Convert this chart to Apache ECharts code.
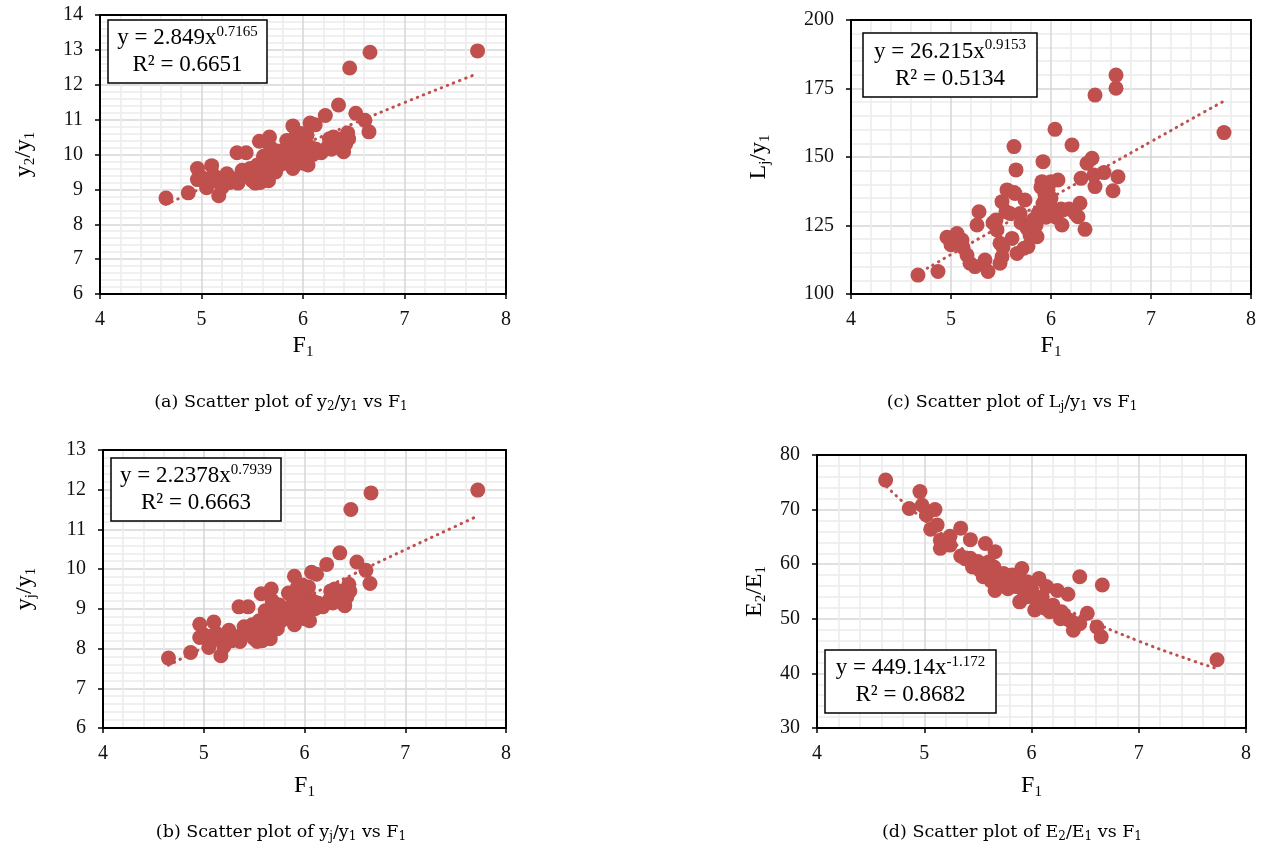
<!DOCTYPE html>
<html>
<head>
<meta charset="utf-8">
<script src="https://cdn.jsdelivr.net/npm/echarts@6/dist/echarts.min.js"></script>
<style>
html,body{margin:0;padding:0;background:#fff;}
#main{width:1272px;height:849px;}
</style>
</head>
<body>
<div id="main"></div>
<script>
// (a) y2/y1 vs F1
var pointsA = [
  [4.65,8.75],[4.87,8.90],[4.96,9.60],[4.96,9.28],[5.00,9.35],[5.05,9.05],[5.08,9.20],[5.10,9.68],
  [5.12,9.40],[5.15,9.25],[5.17,8.82],[5.20,9.05],[5.22,9.30],[5.25,9.45],[5.28,9.20],[5.32,9.30],
  [5.35,10.05],[5.36,9.18],[5.40,9.55],[5.44,10.05],[5.45,9.40],[5.48,9.60],[5.50,9.25],[5.52,9.50],
  [5.53,9.18],[5.55,9.70],[5.56,9.35],[5.57,10.38],[5.58,9.20],[5.60,9.55],[5.61,9.95],[5.63,9.80],
  [5.65,9.40],[5.66,9.25],[5.67,10.50],[5.68,10.20],[5.70,9.65],[5.72,9.90],[5.73,9.50],[5.75,10.10],
  [5.77,9.70],[5.80,9.80],[5.82,10.00],[5.84,10.40],[5.85,9.75],[5.87,9.90],[5.88,10.30],[5.90,10.82],
  [5.90,9.60],[5.92,10.15],[5.93,10.55],[5.95,10.40],[5.96,9.90],[5.97,10.20],[5.98,10.60],[6.00,9.75],
  [6.01,10.35],[6.03,10.05],[6.04,10.55],[6.05,9.70],[6.07,10.90],[6.08,10.20],[6.10,10.00],[6.12,10.85],
  [6.13,10.15],[6.18,10.05],[6.22,11.12],[6.24,10.20],[6.26,10.45],[6.28,10.15],[6.30,10.50],[6.33,10.35],
  [6.35,11.42],[6.38,10.45],[6.40,10.08],[6.42,10.30],[6.44,10.62],[6.45,10.45],[6.46,12.48],[6.52,11.18],
  [6.61,10.98],[6.65,10.65],[6.66,12.93],[7.72,12.97]
];
// (b) yj/y1 vs F1
var pointsB = [
  [4.65,7.76],[4.87,7.90],[4.96,8.61],[4.96,8.28],[5.00,8.35],[5.05,8.03],[5.08,8.20],[5.10,8.67],
  [5.12,8.40],[5.15,8.25],[5.17,7.82],[5.20,8.05],[5.22,8.30],[5.25,8.46],[5.28,8.20],[5.32,8.30],
  [5.35,9.05],[5.36,8.18],[5.40,8.55],[5.44,9.05],[5.45,8.40],[5.48,8.60],[5.50,8.25],[5.52,8.50],
  [5.53,8.18],[5.55,8.70],[5.56,8.35],[5.57,9.38],[5.58,8.20],[5.60,8.55],[5.61,8.95],[5.63,8.80],
  [5.65,8.40],[5.66,8.25],[5.67,9.50],[5.68,9.20],[5.70,8.65],[5.72,8.90],[5.73,8.50],[5.75,9.10],
  [5.77,8.70],[5.80,8.80],[5.82,9.00],[5.84,9.40],[5.85,8.75],[5.87,8.90],[5.88,9.30],[5.90,9.82],
  [5.90,8.60],[5.92,9.15],[5.93,9.55],[5.95,9.40],[5.96,8.90],[5.97,9.20],[5.98,9.60],[6.00,8.75],
  [6.01,9.35],[6.03,9.05],[6.04,9.55],[6.05,8.70],[6.07,9.92],[6.08,9.20],[6.10,9.00],[6.12,9.87],
  [6.13,9.15],[6.18,9.05],[6.22,10.12],[6.24,9.20],[6.26,9.45],[6.28,9.15],[6.30,9.50],[6.33,9.35],
  [6.35,10.41],[6.38,9.45],[6.40,9.08],[6.42,9.30],[6.44,9.62],[6.45,9.45],[6.46,11.50],[6.52,10.18],
  [6.61,9.97],[6.65,9.64],[6.66,11.92],[7.72,11.99]
];
// (c) Lj/y1 vs F1
var pointsC = [
  [4.67,106.9],[4.87,108.2],[4.96,120.7],[5.00,118.0],[5.02,119.1],[5.06,122.1],[5.11,119.7],[5.12,117.0],
  [5.16,114.2],[5.19,111.2],[5.24,110.0],[5.26,125.2],[5.28,130.0],[5.34,112.4],[5.37,108.2],[5.42,126.0],
  [5.45,127.0],[5.46,123.4],[5.49,118.5],[5.49,111.2],[5.51,113.6],[5.51,133.7],[5.52,117.0],[5.55,130.0],
  [5.56,138.0],[5.59,129.4],[5.61,120.3],[5.63,137.0],[5.63,153.8],[5.64,136.7],[5.65,145.3],[5.66,114.8],
  [5.69,129.4],[5.70,126.0],[5.73,116.7],[5.74,134.3],[5.76,124.0],[5.77,117.3],[5.79,121.5],[5.82,127.0],
  [5.85,125.0],[5.86,120.9],[5.87,129.4],[5.90,139.0],[5.91,141.0],[5.92,148.3],[5.92,133.0],[5.94,136.1],
  [5.95,128.0],[5.97,138.0],[5.99,132.5],[6.00,135.0],[6.00,141.0],[6.04,160.1],[6.04,129.4],[6.05,128.0],
  [6.07,141.6],[6.10,131.0],[6.11,125.2],[6.12,130.7],[6.18,131.0],[6.21,154.4],[6.24,129.4],[6.27,128.2],
  [6.29,133.1],[6.30,142.2],[6.34,123.6],[6.36,147.7],[6.41,149.5],[6.43,143.4],[6.44,139.2],[6.44,172.6],
  [6.53,144.3],[6.62,137.7],[6.65,175.1],[6.65,179.9],[6.67,142.8],[7.73,158.9]
];
// (d) E2/E1 vs F1
var pointsD = [
  [4.64,75.4],[4.86,70.2],[4.96,73.3],[4.98,70.8],[5.02,69.0],[5.06,66.4],[5.10,70.0],[5.12,67.2],
  [5.15,64.4],[5.15,62.9],[5.24,65.1],[5.24,63.5],[5.34,66.6],[5.34,61.5],[5.38,61.0],[5.43,64.5],
  [5.43,61.1],[5.45,59.5],[5.48,60.1],[5.50,60.5],[5.52,58.9],[5.55,57.7],[5.57,63.8],[5.58,59.5],
  [5.60,60.4],[5.62,57.0],[5.65,59.5],[5.66,62.3],[5.66,55.2],[5.70,57.5],[5.74,58.3],[5.75,56.0],
  [5.78,55.5],[5.80,56.8],[5.80,57.0],[5.82,58.0],[5.85,57.5],[5.86,55.9],[5.88,57.8],[5.89,53.1],
  [5.90,56.0],[5.91,59.2],[5.93,55.0],[5.95,54.0],[5.96,56.8],[5.98,56.0],[6.00,55.5],[6.02,54.3],
  [6.03,51.6],[6.05,53.0],[6.07,57.4],[6.08,52.8],[6.10,54.0],[6.12,52.0],[6.14,55.9],[6.17,51.3],
  [6.20,52.5],[6.24,55.2],[6.27,50.0],[6.28,51.3],[6.30,50.8],[6.34,54.5],[6.35,49.8],[6.38,49.4],
  [6.39,47.9],[6.45,49.1],[6.45,57.7],[6.52,51.0],[6.61,48.5],[6.65,46.7],[6.66,56.2],[7.73,42.5]
];

// power trend lines, sampled at trendX (values of the fitted curves shown on the chart)
var trendX = [4.65, 5, 5.5, 6, 6.5, 7, 7.5, 7.72];
var trendA = [8.57, 9.03, 9.66, 10.29, 10.89, 11.49, 12.07, 12.32];
var trendB = [7.58, 8.03, 8.66, 9.28, 9.89, 10.49, 11.08, 11.34];
var trendC = [107.0, 114.4, 124.8, 135.1, 145.4, 155.6, 165.8, 170.2];
var trendD = [74.17, 68.11, 60.91, 55.00, 50.08, 45.92, 42.34, 40.94];

// axis ranges [min, max, interval]
var xRange = [4, 8, 1];
var yRangeA = [6, 14, 1];
var yRangeB = [6, 13, 1];
var yRangeC = [100, 200, 25];
var yRangeD = [30, 80, 10];

var eqA = ['2.849', '0.7165', '0.6651'];
var eqB = ['2.2378', '0.7939', '0.6663'];
var eqC = ['26.215', '0.9153', '0.5134'];
var eqD = ['449.14', '-1.172', '0.8682'];

var RED = '#C0504D';
var SERIF = 'Liberation Serif';
var CAPFONT = 'DejaVu Serif';

var panels = [
  {grid:{left:100, top:15, width:406, height:279}, yr:yRangeA, pts:pointsA, tr:trendA, eq:eqA,
   yname:'{n|y}{s|2}{n|/y}{s|1}', xGap:38, yGap:62, box:[108,20,159,63],
   cap:'{c|(a) Scatter plot of y}{cs|2}{c|/y}{cs|1}{c| vs F}{cs|1}', capX:281, capY:402},
  {grid:{left:851, top:20, width:400, height:274}, yr:yRangeC, pts:pointsC, tr:trendC, eq:eqC,
   yname:'{n|L}{s|j}{n|/y}{s|1}', xGap:38, yGap:78, box:[863,33,174,64],
   cap:'{c|(c) Scatter plot of L}{cs|j}{c|/y}{cs|1}{c| vs F}{cs|1}', capX:1012, capY:402},
  {grid:{left:103, top:450, width:403, height:278}, yr:yRangeB, pts:pointsB, tr:trendB, eq:eqB,
   yname:'{n|y}{s|j}{n|/y}{s|1}', xGap:44, yGap:64, box:[111,458,170,63],
   cap:'{c|(b) Scatter plot of y}{cs|j}{c|/y}{cs|1}{c| vs F}{cs|1}', capX:281, capY:832},
  {grid:{left:817, top:455, width:429, height:273}, yr:yRangeD, pts:pointsD, tr:trendD, eq:eqD,
   yname:'{n|E}{s|2}{n|/E}{s|1}', xGap:44, yGap:48, box:[825,650,171,63],
   cap:'{c|(d) Scatter plot of E}{cs|2}{c|/E}{cs|1}{c| vs F}{cs|1}', capX:1012, capY:832}
];

var nameRich = {
  n: {fontFamily: SERIF, fontSize: 24, color: '#000', lineHeight: 28},
  s: {fontFamily: SERIF, fontSize: 15, color: '#000', lineHeight: 14, verticalAlign: 'bottom'}
};

var grids = [], xAxes = [], yAxes = [], series = [], graphics = [];

panels.forEach(function (p, i) {
  grids.push(Object.assign({show: true, backgroundColor: '#fff', borderWidth: 0}, p.grid));

  var split = {show: true, lineStyle: {color: '#d6d6d6', width: 1.5}};
  var minor = {show: true, lineStyle: {color: '#ececec', width: 1.5}};

  xAxes.push({
    type: 'value', gridIndex: i, min: xRange[0], max: xRange[1], interval: xRange[2],
    name: '{n|F}{s|1}', nameLocation: 'middle', nameGap: p.xGap,
    nameTextStyle: {rich: nameRich},
    axisLine: {show: true, onZero: false, lineStyle: {color: '#000', width: 2}},
    axisTick: {show: true, length: 5, lineStyle: {color: '#000', width: 1.5}},
    axisLabel: {fontFamily: SERIF, fontSize: 20, color: '#111', margin: 16},
    splitLine: split,
    minorTick: {show: false, splitNumber: 5},
    minorSplitLine: minor
  });
  // top frame
  xAxes.push({
    type: 'value', gridIndex: i, position: 'top', min: xRange[0], max: xRange[1], interval: xRange[2],
    axisLine: {show: true, onZero: false, lineStyle: {color: '#000', width: 2}},
    axisTick: {show: false}, axisLabel: {show: false}, splitLine: {show: false}
  });

  yAxes.push({
    type: 'value', gridIndex: i, min: p.yr[0], max: p.yr[1], interval: p.yr[2],
    name: p.yname, nameLocation: 'middle', nameGap: p.yGap, nameRotate: 90,
    nameTextStyle: {rich: nameRich},
    axisLine: {show: true, onZero: false, lineStyle: {color: '#000', width: 2}},
    axisTick: {show: true, length: 5, lineStyle: {color: '#000', width: 1.5}},
    axisLabel: {fontFamily: SERIF, fontSize: 20, color: '#111', margin: 17},
    splitLine: split,
    minorTick: {show: false, splitNumber: 5},
    minorSplitLine: minor
  });
  // right frame
  yAxes.push({
    type: 'value', gridIndex: i, position: 'right', min: p.yr[0], max: p.yr[1], interval: p.yr[2],
    axisLine: {show: true, onZero: false, lineStyle: {color: '#000', width: 2}},
    axisTick: {show: false}, axisLabel: {show: false}, splitLine: {show: false}
  });

  series.push({
    type: 'scatter', xAxisIndex: i * 2, yAxisIndex: i * 2,
    data: p.pts, symbolSize: 15, itemStyle: {color: RED, opacity: 1}, z: 3
  });
  series.push({
    type: 'line', xAxisIndex: i * 2, yAxisIndex: i * 2, smooth: true,
    data: trendX.map(function (x, k) { return [x, p.tr[k]]; }),
    showSymbol: false, symbol: 'none', z: 4,
    lineStyle: {color: RED, width: 3, type: [0.5, 6], cap: 'round'}
  });

  var b = p.box;
  graphics.push({
    type: 'rect', z: 100,
    shape: {x: b[0], y: b[1], width: b[2], height: b[3]},
    style: {fill: '#fff', stroke: '#000', lineWidth: 1.5}
  });
  graphics.push({
    type: 'text', z: 101, x: b[0] + b[2] / 2, y: b[1] + b[3] / 2,
    style: {
      text: '{t|y = ' + p.eq[0] + 'x}{p|' + p.eq[1] + '}\n{t|R² = ' + p.eq[2] + '}',
      align: 'center', verticalAlign: 'middle',
      rich: {
        t: {fontFamily: SERIF, fontSize: 23, lineHeight: 27, fill: '#000', color: '#000'},
        p: {fontFamily: SERIF, fontSize: 15, lineHeight: 27, verticalAlign: 'top', fill: '#000', color: '#000'}
      }
    }
  });
  graphics.push({
    type: 'text', z: 101, x: p.capX, y: p.capY,
    style: {
      text: p.cap, align: 'center', verticalAlign: 'middle',
      rich: {
        c: {fontFamily: CAPFONT, fontSize: 17.5, lineHeight: 22, fill: '#000', color: '#000'},
        cs: {fontFamily: CAPFONT, fontSize: 12, lineHeight: 20, verticalAlign: 'bottom', fill: '#000', color: '#000'}
      }
    }
  });
});

var chart = echarts.init(document.getElementById('main'));
chart.setOption({
  backgroundColor: '#fff',
  animation: false,
  grid: grids,
  xAxis: xAxes,
  yAxis: yAxes,
  series: series,
  graphic: graphics
});
</script>
</body>
</html>
